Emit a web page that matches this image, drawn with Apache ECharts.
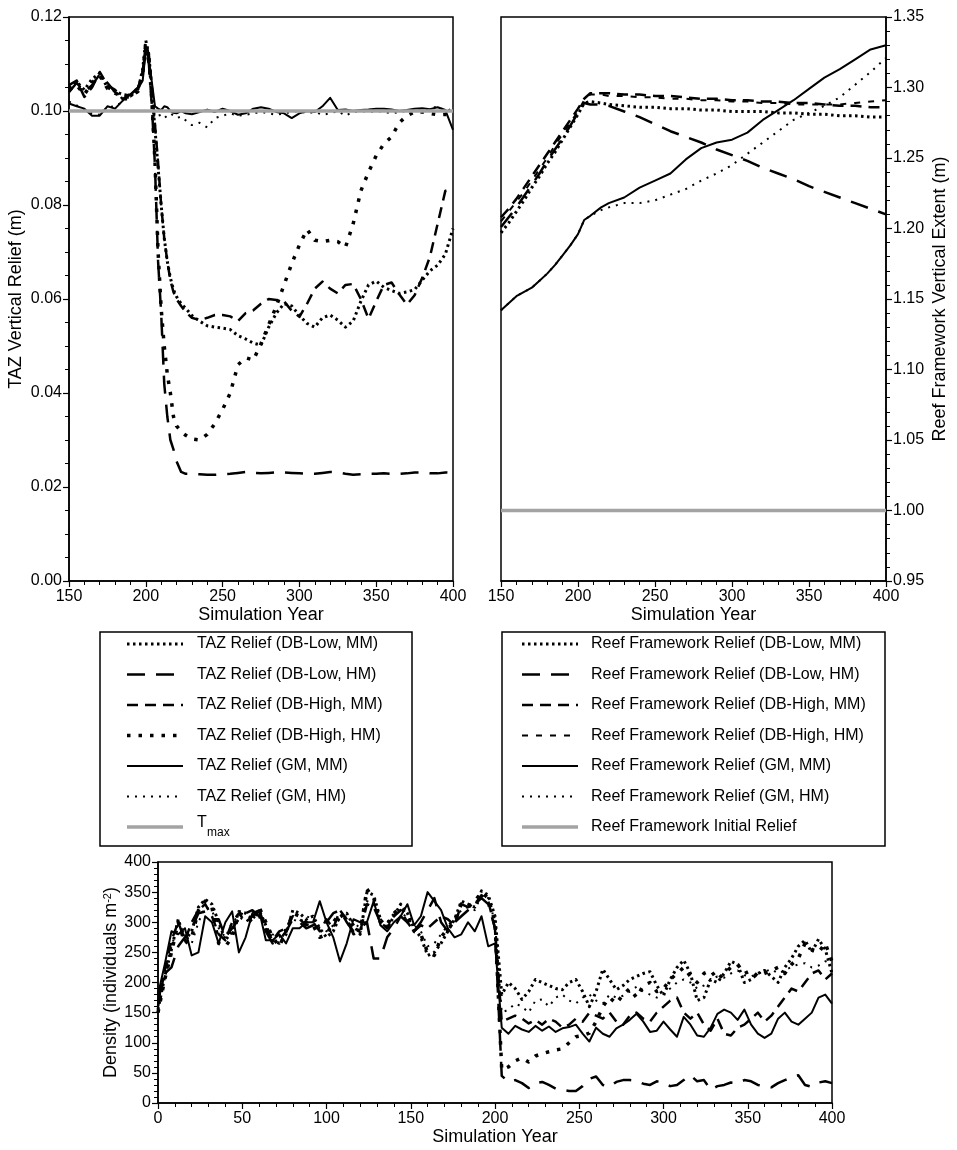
<!DOCTYPE html>
<html><head><meta charset="utf-8">
<script src="https://cdn.jsdelivr.net/npm/echarts@6/dist/echarts.min.js"></script>
<style>html,body{margin:0;padding:0;background:#fff}#c{width:957px;height:1150px}</style>
</head><body><div id="c"></div>
<script>
// ---------- TAZ vertical relief (top-left) ----------
const tazYears = [150,155,160,165,170,175,180,185,190,195,198,200,202,204,206,208,210,212,214,216,218,220,223,226,230,235,240,245,250,255,260,265,270,275,280,285,290,295,300,305,310,315,320,325,330,335,340,345,350,355,360,365,370,375,380,385,390,395,400];
const tazDBLowMM = [0.1050,0.1062,0.1045,0.1068,0.1080,0.1050,0.1042,0.1035,0.1032,0.1045,0.1090,0.1150,0.1120,0.1040,0.0960,0.0880,0.0800,0.0730,0.0680,0.0645,0.0620,0.0605,0.0590,0.0580,0.0565,0.0553,0.0543,0.0540,0.0538,0.0535,0.0522,0.0515,0.0506,0.0502,0.0540,0.0570,0.0590,0.0585,0.0565,0.0548,0.0540,0.0560,0.0566,0.0555,0.0540,0.0553,0.0595,0.0630,0.0638,0.0625,0.0618,0.0612,0.0615,0.0620,0.0640,0.0660,0.0672,0.0695,0.0750];
const tazDBLowHM = [0.1040,0.1060,0.1040,0.1055,0.1078,0.1060,0.1040,0.1030,0.1035,0.1050,0.1080,0.1130,0.1100,0.1010,0.0880,0.0680,0.0570,0.0420,0.0350,0.0300,0.0280,0.0255,0.0232,0.0228,0.0228,0.0227,0.0226,0.0226,0.0227,0.0228,0.0230,0.0232,0.0230,0.0229,0.0230,0.0231,0.0231,0.0230,0.0229,0.0228,0.0228,0.0230,0.0232,0.0231,0.0228,0.0226,0.0227,0.0228,0.0228,0.0229,0.0228,0.0228,0.0229,0.0231,0.0231,0.0229,0.0229,0.0231,0.0230];
const tazDBHighMM = [0.1055,0.1065,0.1030,0.1050,0.1083,0.1055,0.1045,0.1025,0.1038,0.1048,0.1085,0.1140,0.1120,0.1050,0.0970,0.0890,0.0800,0.0730,0.0680,0.0640,0.0615,0.0600,0.0585,0.0572,0.0560,0.0555,0.0560,0.0566,0.0566,0.0563,0.0553,0.0570,0.0576,0.0590,0.0600,0.0598,0.0595,0.0575,0.0562,0.0590,0.0622,0.0637,0.0622,0.0612,0.0630,0.0632,0.0600,0.0558,0.0595,0.0630,0.0635,0.0610,0.0588,0.0608,0.0645,0.0690,0.0760,0.0830,0.0835];
const tazDBHighHM = [0.1045,0.1055,0.1035,0.1060,0.1075,0.1048,0.1038,0.1030,0.1030,0.1042,0.1080,0.1145,0.1110,0.1020,0.0890,0.0700,0.0580,0.0500,0.0440,0.0400,0.0350,0.0330,0.0318,0.0310,0.0302,0.0300,0.0312,0.0335,0.0365,0.0400,0.0460,0.0475,0.0470,0.0505,0.0545,0.0585,0.0630,0.0675,0.0715,0.0748,0.0725,0.0722,0.0725,0.0722,0.0710,0.0760,0.0830,0.0870,0.0905,0.0930,0.0945,0.0975,0.0990,0.0998,0.0998,0.0995,0.0992,0.0993,0.0990];
const tazGMMM = [0.1016,0.1010,0.1005,0.0990,0.0990,0.1010,0.1005,0.1022,0.1035,0.1048,0.1065,0.1130,0.1110,0.1060,0.1010,0.1005,0.1002,0.1010,0.1008,0.1000,0.0996,0.0995,0.1000,0.0995,0.0993,0.0998,0.1003,0.0998,0.1005,0.1000,0.0992,0.0995,0.1005,0.1008,0.1005,0.0998,0.0995,0.0985,0.0995,0.1000,0.0998,0.1010,0.1028,0.1002,0.1003,0.1000,0.1002,0.1003,0.1005,0.1005,0.1003,0.1000,0.1002,0.1005,0.1006,0.1004,0.1008,0.1002,0.0960];
const tazGMHM = [0.1020,0.1012,0.1003,0.0995,0.0992,0.1008,0.1010,0.1020,0.1030,0.1045,0.1070,0.1135,0.1105,0.1000,0.0985,0.0990,0.0992,0.0985,0.0990,0.0995,0.0990,0.0985,0.0988,0.0980,0.0970,0.0975,0.0965,0.0985,0.0990,0.0995,0.0990,0.0992,0.0995,0.0998,0.0995,0.0992,0.0995,0.0998,0.1000,0.0995,0.0998,0.0992,0.0995,0.1000,0.0990,0.0998,0.1000,0.0998,0.1000,0.0998,0.0995,0.0998,0.1000,0.1002,0.1000,0.1005,0.1010,0.1000,0.1005];
const tmaxYears = [150,400];
const tmaxValues = [0.10,0.10];

// ---------- Reef framework vertical extent (top-right) ----------
const rfYears = [150,155,160,165,170,175,180,185,190,195,200,204,208,215,220,230,240,250,260,270,280,290,300,310,320,330,340,350,360,370,380,390,400];
const rfDBLowMM = [1.197,1.204,1.212,1.220,1.229,1.237,1.246,1.254,1.263,1.272,1.281,1.289,1.290,1.289,1.288,1.287,1.286,1.286,1.285,1.285,1.284,1.284,1.283,1.283,1.283,1.282,1.282,1.281,1.281,1.280,1.280,1.279,1.279];
const rfDBLowHM = [1.201,1.208,1.215,1.223,1.231,1.239,1.248,1.256,1.264,1.273,1.282,1.289,1.288,1.288,1.287,1.283,1.279,1.274,1.269,1.265,1.261,1.256,1.252,1.248,1.243,1.239,1.235,1.230,1.226,1.222,1.218,1.214,1.210];
const rfDBHighMM = [1.208,1.214,1.221,1.229,1.237,1.245,1.253,1.261,1.269,1.277,1.285,1.292,1.296,1.296,1.296,1.295,1.295,1.294,1.294,1.293,1.292,1.292,1.291,1.291,1.290,1.290,1.289,1.289,1.288,1.287,1.287,1.286,1.286];
const rfDBHighHM = [1.205,1.212,1.219,1.226,1.234,1.242,1.250,1.259,1.267,1.275,1.283,1.291,1.295,1.295,1.294,1.294,1.293,1.293,1.292,1.292,1.291,1.291,1.290,1.290,1.289,1.289,1.288,1.288,1.288,1.288,1.289,1.290,1.291];
const rfGMMM = [1.142,1.147,1.152,1.155,1.158,1.163,1.168,1.174,1.181,1.188,1.196,1.206,1.209,1.215,1.218,1.222,1.229,1.234,1.239,1.249,1.257,1.261,1.263,1.268,1.277,1.284,1.291,1.299,1.307,1.313,1.320,1.327,1.330];
const rfGMHM = [1.142,1.147,1.152,1.155,1.158,1.163,1.168,1.174,1.181,1.188,1.196,1.206,1.209,1.213,1.215,1.218,1.218,1.220,1.224,1.228,1.234,1.239,1.245,1.253,1.261,1.269,1.277,1.282,1.287,1.293,1.302,1.311,1.321];
const rfInitYears = [150,400];
const rfInitValues = [1.00,1.00];

// ---------- Density (bottom) ----------
const dYears = [0,4,8,12,16,20,24,28,32,36,40,44,48,52,56,60,64,68,72,76,80,84,88,92,96,100,104,108,112,116,120,124,128,132,136,140,144,148,152,156,160,164,168,172,176,180,184,188,192,196,200,204,208,212,216,220,224,228,232,236,240,244,248,252,256,260,264,268,272,276,280,284,288,292,296,300,304,308,312,316,320,324,328,332,336,340,344,348,352,356,360,364,368,372,376,380,384,388,392,396,400];
const dDBLowMM = [155,210,255,305,270,285,325,338,330,300, 270,285,318,315,305,320,295,270,265,280, 320,315,305,310,290,275,285,310,315,295, 280,350,345,305,290,310,330,315,290,275, 245,250,265,285,305,335,330,325,352,345, 310,180,200,190,172,185,205,200,195,190, 188,200,205,185,160,185,222,205,188,195, 205,210,215,218,195,178,205,225,237,215, 170,175,205,200,215,235,230,200,205,215, 220,210,200,225,240,260,270,250,272,255, 215];
const dDBLowHM = [170,215,225,260,275,290,315,318,305,305, 275,290,305,315,320,310,285,265,270,285, 305,300,290,295,305,300,315,320,300,285, 290,300,240,240,275,290,310,300,285,300, 320,340,300,285,300,310,320,330,340,330, 290,45,35,38,33,25,33,35,30,24, 22,20,20,28,40,44,30,27,35,38, 38,37,32,30,36,34,28,30,38,46, 36,38,22,28,30,34,33,38,36,30, 28,26,33,38,42,46,30,27,34,36, 33];
const dDBHighMM = [160,220,270,300,270,300,320,330,310,280, 270,300,315,300,310,320,290,270,285,290, 310,305,295,300,285,305,290,320,305,280, 285,330,325,300,290,310,320,300,285,295, 290,300,310,305,295,330,325,330,345,335, 290,135,140,145,140,132,138,130,140,135, 125,130,140,135,150,145,140,150,135,130, 145,150,140,135,150,160,170,175,150,140, 150,130,120,140,115,112,125,130,140,150, 135,145,160,175,190,185,200,215,220,205, 215];
const dDBHighHM = [150,205,250,300,265,275,320,335,325,265, 260,275,315,310,300,325,300,275,260,285, 315,310,300,295,275,280,300,315,300,290, 285,355,340,300,295,315,325,310,285,280, 250,245,275,290,300,330,325,335,350,340, 300,55,60,70,75,68,78,82,85,88, 90,100,110,112,116,135,160,175,165,180, 190,175,195,200,185,190,205,215,225,210, 200,215,220,205,215,225,230,215,220,210, 215,220,225,215,230,240,265,255,250,265, 235];
const dGMMM = [180,230,285,280,290,245,250,310,300,265, 300,318,250,275,315,320,270,270,280,265, 290,290,300,300,335,300,275,235,265,305, 300,300,335,295,285,300,310,330,295,310, 350,335,320,290,275,280,300,285,310,260, 265,125,115,128,122,118,128,120,127,118, 124,126,130,115,102,125,115,110,124,130, 138,148,135,118,120,135,122,110,143,130, 112,110,125,148,155,150,138,155,130,115, 108,115,140,150,135,130,140,150,175,180, 165];
const dGMHM = [165,215,260,295,280,265,300,325,320,290, 275,300,310,300,310,315,290,280,275,290, 305,300,310,305,290,285,295,305,310,300, 290,335,330,305,300,315,320,305,295,285, 260,265,280,295,305,320,325,320,345,340, 300,150,155,165,160,150,170,172,160,175, 180,170,165,175,180,170,165,180,175,178, 185,193,185,180,175,182,190,200,205,200, 190,195,205,210,208,215,220,212,210,215, 218,222,215,220,226,230,232,225,228,235, 238];

// ---------- styles ----------
const FONT = '"Liberation Sans", Arial, Helvetica, sans-serif';
const BLACK = '#000';
const GRAY = '#a3a3a3';
const styleDotDense = {width: 3, type: [2.5, 3.5]};
const styleLongDash = {width: 2.5, type: [18, 11]};
const styleMedDash = {width: 2.5, type: [11, 7]};
const styleSquareDot = {width: 3.5, type: [3.5, 8]};
const styleShortDash = {width: 2, type: [6, 8]};
const styleSolid = {width: 2, type: 'solid'};
const styleDotSparse = {width: 2, type: [2, 6]};
const styleGray = {width: 3.5, type: 'solid', color: GRAY};

function pairs(xs, ys) { return xs.map((x, i) => [x, ys[i]]); }

const tazDefs = [
  {name: 'TAZ Relief (DB-Low, MM)', x: tazYears, y: tazDBLowMM, st: styleDotDense},
  {name: 'TAZ Relief (DB-Low, HM)', x: tazYears, y: tazDBLowHM, st: styleLongDash},
  {name: 'TAZ Relief (DB-High, MM)', x: tazYears, y: tazDBHighMM, st: styleMedDash},
  {name: 'TAZ Relief (DB-High, HM)', x: tazYears, y: tazDBHighHM, st: styleSquareDot},
  {name: 'TAZ Relief (GM, MM)', x: tazYears, y: tazGMMM, st: styleSolid},
  {name: 'TAZ Relief (GM, HM)', x: tazYears, y: tazGMHM, st: styleDotSparse},
  {name: 'Tmax', x: tmaxYears, y: tmaxValues, st: styleGray, sub: true}
];
const rfDefs = [
  {name: 'Reef Framework Relief (DB-Low, MM)', x: rfYears, y: rfDBLowMM, st: styleDotDense},
  {name: 'Reef Framework Relief (DB-Low, HM)', x: rfYears, y: rfDBLowHM, st: styleLongDash},
  {name: 'Reef Framework Relief (DB-High, MM)', x: rfYears, y: rfDBHighMM, st: styleMedDash},
  {name: 'Reef Framework Relief (DB-High, HM)', x: rfYears, y: rfDBHighHM, st: styleShortDash},
  {name: 'Reef Framework Relief (GM, MM)', x: rfYears, y: rfGMMM, st: styleSolid},
  {name: 'Reef Framework Relief (GM, HM)', x: rfYears, y: rfGMHM, st: styleDotSparse},
  {name: 'Reef Framework Initial Relief', x: rfInitYears, y: rfInitValues, st: styleGray}
];
const dDefs = [
  {name: 'Density (DB-Low, MM)', x: dYears, y: dDBLowMM, st: styleDotDense},
  {name: 'Density (DB-Low, HM)', x: dYears, y: dDBLowHM, st: styleLongDash},
  {name: 'Density (DB-High, MM)', x: dYears, y: dDBHighMM, st: styleMedDash},
  {name: 'Density (DB-High, HM)', x: dYears, y: dDBHighHM, st: styleSquareDot},
  {name: 'Density (GM, MM)', x: dYears, y: dGMMM, st: styleSolid},
  {name: 'Density (GM, HM)', x: dYears, y: dGMHM, st: styleDotSparse}
];

const series = [];
function addSeries(defs, idx) {
  defs.forEach(d => {
    series.push({
      type: 'line', name: d.name, xAxisIndex: idx, yAxisIndex: idx,
      data: pairs(d.x, d.y), symbol: 'none', smooth: false, silent: true,
      z: d.st.color ? 5 : 2,
      lineStyle: {color: d.st.color || BLACK, width: d.st.width, type: d.st.type, cap: 'butt', join: 'round'}
    });
  });
}
addSeries(tazDefs, 0);
addSeries(rfDefs, 1);
addSeries(dDefs, 2);

// ---------- legend boxes as graphics ----------
const graphics = [];
function legendBox(defs, box, lineX1, lineX2, textX) {
  graphics.push({type: 'rect', shape: box, style: {fill: 'none', stroke: BLACK, lineWidth: 1.5}, z: 10});
  defs.forEach((d, i) => {
    const y = box.y + 12 + i * 30.5;
    graphics.push({type: 'line', shape: {x1: lineX1, y1: y, x2: lineX2, y2: y}, z: 10,
      style: {stroke: d.st.color || BLACK, lineWidth: d.st.width, lineDash: Array.isArray(d.st.type) ? d.st.type : null, lineCap: 'butt'}});
    if (d.sub) {
      graphics.push({type: 'text', x: textX, y: y - 4, z: 10, style: {text: 'T', font: '16px ' + FONT, fill: BLACK, verticalAlign: 'middle'}});
      graphics.push({type: 'text', x: textX + 10, y: y + 6, z: 10, style: {text: 'max', font: '12px ' + FONT, fill: BLACK, verticalAlign: 'middle'}});
    } else {
      graphics.push({type: 'text', x: textX, y: y, z: 10, style: {text: d.name, font: '16px ' + FONT, fill: BLACK, verticalAlign: 'middle'}});
    }
  });
}
legendBox(tazDefs, {x: 100, y: 632, width: 312, height: 214}, 127, 183, 197);
legendBox(rfDefs, {x: 502, y: 632, width: 383, height: 214}, 522, 578, 591);

// ---------- axes ----------
function xAx(gi, min, max) {
  return {
    type: 'value', gridIndex: gi, min: min, max: max, interval: 50,
    name: 'Simulation Year', nameLocation: 'middle', nameGap: 25,
    nameTextStyle: {color: BLACK, fontSize: 18, fontFamily: FONT},
    axisLine: {onZero: false, lineStyle: {color: BLACK, width: 1.5}},
    axisTick: {length: 6, lineStyle: {color: BLACK, width: 1.2}},
    minorTick: {show: true, splitNumber: 5, length: 4, lineStyle: {color: BLACK, width: 1}},
    splitLine: {show: false}, minorSplitLine: {show: false},
    axisLabel: {color: BLACK, fontSize: 16, fontFamily: FONT, margin: 8}
  };
}
function yAx(gi, min, max, interval, minorSplit, name, pos, gap, fmt) {
  return {
    type: 'value', gridIndex: gi, min: min, max: max, interval: interval, position: pos,
    name: name, nameLocation: 'middle', nameGap: gap, nameMoveOverlap: false,
    nameTextStyle: {color: BLACK, fontSize: 18, fontFamily: FONT,
      rich: {sup: {fontSize: 11, fontFamily: FONT, color: BLACK, verticalAlign: 'top', lineHeight: 10}}},
    axisLine: {onZero: false, lineStyle: {color: BLACK, width: 1.5}},
    axisTick: {length: 6, lineStyle: {color: BLACK, width: 1.2}},
    minorTick: {show: true, splitNumber: minorSplit, length: 4, lineStyle: {color: BLACK, width: 1}},
    splitLine: {show: false}, minorSplitLine: {show: false},
    axisLabel: {color: BLACK, fontSize: 16, fontFamily: FONT, margin: 7, formatter: fmt}
  };
}

const chart = echarts.init(document.getElementById('c'), null, {renderer: 'canvas'});
chart.setOption({
  animation: false,
  backgroundColor: '#fff',
  grid: [
    {left: 69, top: 17, width: 384, height: 564, show: true, borderColor: BLACK, borderWidth: 1.5, containLabel: false},
    {left: 501, top: 17, width: 385, height: 564, show: true, borderColor: BLACK, borderWidth: 1.5, containLabel: false},
    {left: 158, top: 862, width: 674, height: 241, show: true, borderColor: BLACK, borderWidth: 1.5, containLabel: false}
  ],
  xAxis: [xAx(0, 150, 400), xAx(1, 150, 400), xAx(2, 0, 400)],
  yAxis: [
    yAx(0, 0, 0.12, 0.02, 4, 'TAZ Vertical Relief (m)', 'left', 44, v => v.toFixed(2)),
    yAx(1, 0.95, 1.35, 0.05, 5, 'Reef Framework Vertical Extent (m)', 'right', 45, v => v.toFixed(2)),
    yAx(2, 0, 400, 50, 5, 'Density (individuals m{sup|-2})', 'left', 38, v => String(v))
  ],
  series: series,
  graphic: graphics
});
</script></body></html>
